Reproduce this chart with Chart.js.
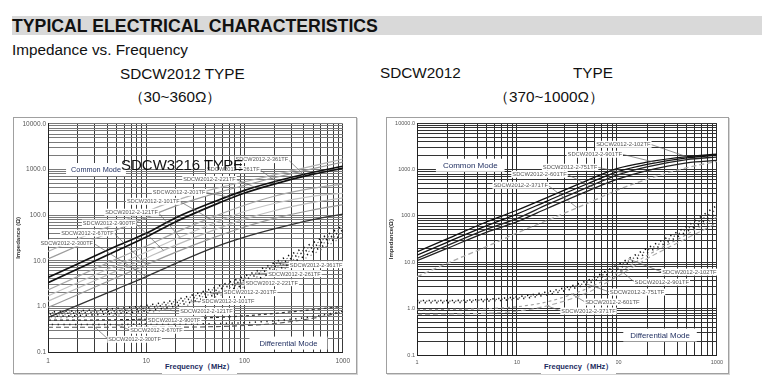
<!DOCTYPE html>
<html>
<head>
<meta charset="utf-8">
<script src="https://cdn.jsdelivr.net/npm/chart.js@4.4.1/dist/chart.umd.min.js"></script>
<style>
  html, body { margin: 0; padding: 0; background: #fff; }
  body { width: 762px; height: 387px; position: relative; overflow: hidden;
         font-family: "Liberation Sans", Arial, sans-serif; }
  .t { position: absolute; white-space: nowrap; line-height: 1; color: #111; }
  .bar { position: absolute; left: 12px; top: 16px; width: 750px; height: 19px; background: #d9d9d9; }
  .frame { position: absolute; border: 1px solid #a0a0a0; box-shadow: 1px 1px 0 #d4d4d4; background: #fff; }
  canvas { position: absolute; }
  .ftitle { position: absolute; background: #fff; font-weight: bold; font-size: 7.5px; color: #1c2b5e;
            line-height: 1; padding: 3px 3px; white-space: nowrap; }
</style>
</head>
<body>
<div class="bar"></div>
<div class="t" style="left:12px;top:18px;font-size:17.7px;font-weight:bold;">TYPICAL ELECTRICAL CHARACTERISTICS</div>
<div class="t" style="left:12px;top:42px;font-size:15.3px;">Impedance vs. Frequency</div>
<div class="t" style="left:120px;top:65.5px;font-size:15.3px;">SDCW2012 TYPE</div>
<div class="t" style="left:175px;top:89px;font-size:15.3px;transform:translateX(-50%);">（30~360Ω）</div>
<div class="t" style="left:380px;top:65px;font-size:15.3px;">SDCW2012</div>
<div class="t" style="left:573px;top:65px;font-size:15.3px;">TYPE</div>
<div class="t" style="left:549px;top:88.5px;font-size:15.3px;transform:translateX(-50%);">（370~1000Ω）</div>

<div class="frame" style="left:13px;top:117px;width:342px;height:255px;"></div>
<div class="frame" style="left:386px;top:117px;width:341px;height:255px;"></div>

<canvas id="left" width="341" height="254" style="left:14px;top:118px;"></canvas>
<canvas id="right" width="340" height="254" style="left:387px;top:118px;"></canvas>

<div class="ftitle" style="left:162px;top:360px;">Frequency（MHz）</div>
<div class="ftitle" style="left:541px;top:360px;">Frequency（MHz）</div>
<div class="t" style="left:121px;top:157px;font-size:15px;">SDCW3216 TYPE</div>

<script>
// Frequency points (MHz) shared by every curve
const freqMHz = [1, 2, 5, 10, 20, 50, 100, 200, 500, 1000];

// Axis ticks
const xDecades = [1, 10, 100, 1000];
const xTickLabels = ['1', '10', '100', '1000'];
const yDecades = [0.1, 1, 10, 100, 1000, 10000];
const yTickLabels = ['0.1', '1.0', '10.0', '100.0', '1000.0', '10000.0'];

// 30~360Ω parts, common mode impedance (Ω)
const cmA_361TF = [16, 30, 66, 120, 210, 380, 540, 760, 1200, 1700];
const cmA_261TF = [11, 21, 48, 88, 160, 300, 450, 660, 1050, 1450];
const cmA_221TF = [4.3, 8.5, 21, 40, 88, 200, 350, 540, 870, 1180];
const cmA_201TF = [3.3, 6.6, 16.5, 33, 72, 170, 305, 480, 790, 1060];
const cmA_101TF = [2.3, 4.5, 11, 21, 42, 95, 165, 260, 390, 480];
const cmA_121TF = [1.7, 3.3, 8, 15.5, 30, 68, 120, 180, 260, 300];
const cmA_900TF = [1.3, 2.5, 6, 11.5, 22, 48, 82, 125, 190, 240];
const cmA_670TF = [0.95, 1.8, 4.3, 8.2, 15.5, 33, 55, 85, 130, 170];
const cmA_300TF = [0.57, 1.05, 2.4, 4.5, 8.8, 20, 33, 50, 80, 105];

// 30~360Ω parts, differential mode impedance (Ω)
const dmA_361TF = [0.75, 0.8, 0.9, 1.05, 1.4, 2.6, 4.6, 9, 25, 58];
const dmA_261TF = [0.72, 0.76, 0.85, 0.98, 1.3, 2.4, 4.2, 8.2, 22, 52];
const dmA_221TF = [0.68, 0.72, 0.8, 0.92, 1.2, 2.2, 3.8, 7.4, 20, 47];
const dmA_201TF = [0.64, 0.67, 0.75, 0.86, 1.1, 2.0, 3.4, 6.6, 18, 43];
const dmA_101TF = [0.6, 0.63, 0.7, 0.8, 1.02, 1.8, 3.0, 5.8, 16, 38];
const dmA_121TF = [0.55, 0.58, 0.64, 0.73, 0.92, 1.6, 2.7, 5.2, 14, 34];
const dmA_900TF = [0.5, 0.5, 0.51, 0.52, 0.54, 0.57, 0.62, 0.7, 0.85, 1.0];
const dmA_670TF = [0.4, 0.4, 0.4, 0.41, 0.41, 0.42, 0.44, 0.48, 0.6, 0.78];
const dmA_300TF = [0.35, 0.35, 0.35, 0.35, 0.35, 0.36, 0.38, 0.42, 0.55, 0.75];

// 370~1000Ω parts, common mode impedance (Ω)
const cmB_102TF = [16.8, 32, 75, 133, 250, 580, 1057, 1450, 1900, 2150];
const cmB_901TF = [14.3, 27, 62, 110, 210, 490, 894, 1300, 1800, 2050];
const cmB_751TF = [12.1, 23, 52, 88, 175, 410, 760, 1150, 1650, 1870];
const cmB_601TF = [10.8, 20, 45, 75, 145, 340, 614, 950, 1400, 1580];
const cmB_371TF = [4.9, 9.5, 22, 43, 80, 185, 360, 620, 1100, 1500];

// 370~1000Ω parts, differential mode impedance (Ω)
const dmB_102TF = [1.5, 1.5, 1.6, 1.8, 2.3, 4.0, 8.7, 20, 60, 170];
const dmB_901TF = [1.45, 1.45, 1.55, 1.7, 2.15, 3.7, 7.8, 18, 52, 140];
const dmB_751TF = [1.35, 1.35, 1.45, 1.6, 2.0, 3.4, 7.0, 16, 46, 115];
const dmB_601TF = [0.95, 0.96, 1.0, 1.1, 1.4, 2.7, 5.8, 14, 40, 95];
const dmB_371TF = [0.75, 0.76, 0.8, 0.88, 1.15, 2.2, 4.9, 12, 33, 70];

// Grid lines at 1..9 × each decade
function logGrid(lo, hi) {
  const out = [];
  for (let d = lo; d < hi; d *= 10) for (let k = 1; k < 10; k++) out.push(+(d * k).toPrecision(3));
  out.push(hi);
  return out;
}

// Log-log interpolation on a curve, used for leader line end points
function valueAt(values, f) {
  for (let i = 0; i < freqMHz.length - 1; i++) {
    if (f >= freqMHz[i] && f <= freqMHz[i + 1]) {
      const t = (Math.log10(f) - Math.log10(freqMHz[i])) / (Math.log10(freqMHz[i + 1]) - Math.log10(freqMHz[i]));
      return Math.pow(10, Math.log10(values[i]) + t * (Math.log10(values[i + 1]) - Math.log10(values[i])));
    }
  }
  return values[values.length - 1];
}

const SOLID = [], DOTS = [1.3, 4.5], DASH = [5, 3], SHORTDASH = [3, 3];

function series(label, values, color, width, dash, offset) {
  return {
    label, values,
    data: freqMHz.map((f, i) => ({ x: f, y: values[i] })),
    borderColor: color, borderWidth: width, borderDash: dash, borderDashOffset: offset || 0,
    pointRadius: 0, cubicInterpolationMode: 'monotone', fill: false
  };
}

// Captions, part labels and their leader lines
const annotate = {
  id: 'annotate',
  afterDatasetsDraw(chart) {
    const cfg = chart.options.plugins.annotate;
    const { ctx, scales: { x, y } } = chart;
    const byName = {};
    chart.data.datasets.forEach(d => byName[d.label] = d);
    ctx.save();
    ctx.font = cfg.labelFont;
    ctx.textBaseline = 'middle';
    ctx.textAlign = 'center';
    const boxes = cfg.labels.map(l => {
      const cx = x.getPixelForValue(l.at[0]), cy = y.getPixelForValue(l.at[1]);
      const w = ctx.measureText(l.text).width;
      const ds = byName[l.curve];
      const tx = x.getPixelForValue(l.to), ty = y.getPixelForValue(valueAt(ds.values, l.to));
      const sx = tx > cx ? cx + w / 2 : cx - w / 2;
      return { l, cx, cy, w, tx, ty, sx };
    });
    ctx.strokeStyle = '#666';
    ctx.lineWidth = 0.7;
    boxes.forEach(b => { ctx.beginPath(); ctx.moveTo(b.sx, b.cy); ctx.lineTo(b.tx, b.ty); ctx.stroke(); });
    boxes.forEach(b => {
      ctx.fillStyle = '#fff';
      ctx.fillRect(b.cx - b.w / 2 - 1, b.cy - 3.5, b.w + 2, 7);
      ctx.fillStyle = '#555';
      ctx.fillText(b.l.text, b.cx, b.cy + 0.3);
    });
    cfg.captions.forEach(c => {
      ctx.font = c.font;
      const cx = x.getPixelForValue(c.at[0]), cy = y.getPixelForValue(c.at[1]);
      const w = ctx.measureText(c.text).width;
      ctx.fillStyle = '#fff';
      ctx.fillRect(cx - w / 2 - c.pad, cy - 6.5, w + 2 * c.pad, 13);
      ctx.fillStyle = '#1c2b5e';
      ctx.fillText(c.text, cx, cy + 0.5);
    });
    ctx.restore();
  }
};

function makeChart(id, datasets, geom, labels, captions, yTitle) {
  const gridX = logGrid(1, 1000), gridY = logGrid(0.1, 10000);
  return new Chart(document.getElementById(id), {
    type: 'line',
    data: { datasets },
    plugins: [annotate],
    options: {
      responsive: false, animation: false, devicePixelRatio: 1,
      layout: { padding: { left: 0, right: geom.right, top: geom.top, bottom: 0 } },
      plugins: {
        legend: { display: false }, tooltip: { enabled: false },
        annotate: { labels, captions, labelFont: geom.labelFont }
      },
      scales: {
        x: {
          type: 'logarithmic', min: 1, max: 1000,
          afterFit: s => { s.height = geom.xh; },
          afterBuildTicks: s => { s.ticks = gridX.map(v => ({ value: v })); },
          grid: { color: geom.gridX, lineWidth: 1, drawTicks: false },
          border: { color: '#222' },
          ticks: {
            autoSkip: false, maxRotation: 0, padding: geom.xpad, color: '#555',
            font: { size: geom.tick, family: 'Liberation Sans' },
            callback: v => { const i = xDecades.indexOf(v); return i >= 0 ? xTickLabels[i] : ''; }
          }
        },
        y: {
          type: 'logarithmic', min: 0.1, max: 10000,
          afterFit: s => { s.width = geom.yw; },
          afterBuildTicks: s => { s.ticks = gridY.map(v => ({ value: v })); },
          grid: { color: geom.gridY, lineWidth: 1, drawTicks: false },
          border: { color: '#222' },
          title: { display: true, text: yTitle, color: '#333', padding: { top: 1, bottom: 0 },
                   font: { size: 6, weight: 'bold', family: 'Liberation Sans' } },
          ticks: {
            autoSkip: false, padding: 2, color: '#555',
            font: { size: geom.tick, family: 'Liberation Sans' },
            callback: v => { const i = yDecades.findIndex(d => Math.abs(d - v) < 1e-9); return i >= 0 ? yTickLabels[i] : ''; }
          }
        }
      }
    }
  });
}

// Left chart: SDCW2012 30~360Ω
makeChart('left', [
  series('CM 361TF', cmA_361TF, '#b4b4b4', 1.2, SOLID),
  series('CM 261TF', cmA_261TF, '#9c9c9c', 1.2, SOLID),
  series('CM 221TF', cmA_221TF, '#111', 1.7, SOLID),
  series('CM 201TF', cmA_201TF, '#111', 1.7, SOLID),
  series('CM 101TF', cmA_101TF, '#a8a8a8', 1.2, SOLID),
  series('CM 121TF', cmA_121TF, '#c4c4c4', 1.2, SOLID),
  series('CM 900TF', cmA_900TF, '#bdbdbd', 1.2, SOLID),
  series('CM 670TF', cmA_670TF, '#999', 1.2, SOLID),
  series('CM 300TF', cmA_300TF, '#333', 1.3, SOLID),
  series('DM 361TF', dmA_361TF, '#111', 1.6, DOTS, 0),
  series('DM 261TF', dmA_261TF, '#666', 1.2, DOTS, 2),
  series('DM 221TF', dmA_221TF, '#222', 1.6, DOTS, 4),
  series('DM 201TF', dmA_201TF, '#777', 1.2, DOTS, 1),
  series('DM 101TF', dmA_101TF, '#111', 1.6, DOTS, 3),
  series('DM 121TF', dmA_121TF, '#888', 1.2, DOTS, 5),
  series('DM 900TF', dmA_900TF, '#333', 1.2, SHORTDASH),
  series('DM 670TF', dmA_670TF, '#222', 1.5, DOTS, 2),
  series('DM 300TF', dmA_300TF, '#555', 1.1, DASH)
], { right: 8, top: 4, xh: 20, yw: 34, tick: 6.5, xpad: 5, gridX: '#3a3a3a', gridY: '#7a7a7a', labelFont: '5.6px "Liberation Sans"' },
[
  { text: 'SDCW2012-2-361TF', at: [150, 1650], curve: 'CM 221TF', to: 400 },
  { text: 'SDCW2012-2-261TF', at: [77, 1000], curve: 'CM 201TF', to: 220 },
  { text: 'SDCW2012-2-221TF', at: [44, 607], curve: 'CM 221TF', to: 128 },
  { text: 'SDCW2012-2-201TF', at: [21.6, 316], curve: 'CM 201TF', to: 75 },
  { text: 'SDCW2012-2-101TF', at: [11.8, 201], curve: 'CM 101TF', to: 44 },
  { text: 'SDCW2012-2-121TF', at: [7.1, 116], curve: 'CM 121TF', to: 22 },
  { text: 'SDCW2012-2-900TF', at: [4.19, 67], curve: 'CM 900TF', to: 15 },
  { text: 'SDCW2012-2-670TF', at: [2.52, 40.6], curve: 'CM 670TF', to: 10 },
  { text: 'SDCW2012-2-300TF', at: [1.55, 24.6], curve: 'CM 300TF', to: 10 },
  { text: 'SDCW2012-2-361TF', at: [535, 8.2], curve: 'DM 361TF', to: 200 },
  { text: 'SDCW2012-2-261TF', at: [322, 5.2], curve: 'DM 261TF', to: 130 },
  { text: 'SDCW2012-2-221TF', at: [189, 3.3], curve: 'DM 221TF', to: 80 },
  { text: 'SDCW2012-2-201TF', at: [114, 2.0], curve: 'DM 201TF', to: 45 },
  { text: 'SDCW2012-2-101TF', at: [68, 1.28], curve: 'DM 101TF', to: 28 },
  { text: 'SDCW2012-2-121TF', at: [41, 0.78], curve: 'DM 121TF', to: 15 },
  { text: 'SDCW2012-2-900TF', at: [19.2, 0.5], curve: 'DM 900TF', to: 8 },
  { text: 'SDCW2012-2-670TF', at: [12.7, 0.3], curve: 'DM 670TF', to: 5 },
  { text: 'SDCW2012-2-300TF', at: [7.6, 0.19], curve: 'DM 300TF', to: 3 }
],
[
  { text: 'Common Mode', at: [3.08, 1000], font: '7.3px "Liberation Sans"', pad: 5 },
  { text: 'Differential Mode', at: [280, 0.157], font: '7.7px "Liberation Sans"', pad: 10 }
], 'Impedance (Ω)');

// Right chart: SDCW2012 370~1000Ω
makeChart('right', [
  series('CM 102TF', cmB_102TF, '#111', 1.3, SOLID),
  series('CM 901TF', cmB_901TF, '#111', 1.3, SOLID),
  series('CM 751TF', cmB_751TF, '#222', 1.3, SOLID),
  series('CM 601TF', cmB_601TF, '#222', 1.3, SOLID),
  series('CM 371TF', cmB_371TF, '#aaa', 1.3, DASH),
  series('DM 102TF', dmB_102TF, '#111', 1.6, DOTS, 0),
  series('DM 901TF', dmB_901TF, '#555', 1.3, DOTS, 2.5),
  series('DM 751TF', dmB_751TF, '#222', 1.6, DOTS, 4),
  series('DM 601TF', dmB_601TF, '#999', 1.1, SHORTDASH),
  series('DM 371TF', dmB_371TF, '#aaa', 1.1, DASH)
], { right: 6, top: 5, xh: 17, yw: 30, tick: 5.5, xpad: 4, gridX: '#2a2a2a', gridY: '#333', labelFont: '5.8px "Liberation Sans"' },
[
  { text: 'SDCW2012-2-102TF', at: [116, 3520], curve: 'CM 102TF', to: 500 },
  { text: 'SDCW2012-2-901TF', at: [60, 2150], curve: 'CM 901TF', to: 250 },
  { text: 'SDCW2012-2-751TF', at: [34, 1127], curve: 'CM 751TF', to: 120 },
  { text: 'SDCW2012-2-601TF', at: [16.8, 796], curve: 'CM 601TF', to: 60 },
  { text: 'SDCW2012-2-371TF', at: [10.9, 461], curve: 'CM 371TF', to: 40 },
  { text: 'SDCW2012-2-102TF', at: [531, 6.15], curve: 'DM 102TF', to: 130 },
  { text: 'SDCW2012-2-901TF', at: [281, 3.74], curve: 'DM 901TF', to: 100 },
  { text: 'SDCW2012-2-751TF', at: [159, 2.28], curve: 'DM 751TF', to: 50 },
  { text: 'SDCW2012-2-601TF', at: [90, 1.39], curve: 'DM 601TF', to: 35 },
  { text: 'SDCW2012-2-371TF', at: [52, 0.89], curve: 'DM 371TF', to: 20 }
],
[
  { text: 'Common Mode', at: [3.41, 1245], font: '8px "Liberation Sans"', pad: 7 },
  { text: 'Differential Mode', at: [270, 0.27], font: '7.9px "Liberation Sans"', pad: 7 }
], 'Impedance(Ω)');
</script>
</body>
</html>
